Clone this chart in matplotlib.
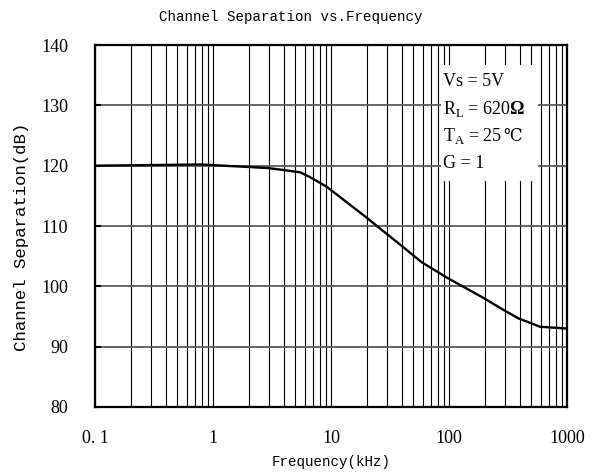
import matplotlib
matplotlib.use("Agg")
import matplotlib.pyplot as plt
from matplotlib.patches import Rectangle
from matplotlib.ticker import FixedLocator, LogLocator, NullFormatter

# Données
freq_khz = [0.1, 0.3, 0.78, 1.93, 2.94, 3.9, 5.46, 6.64, 9.2, 19.7, 29.6, 39.2, 58.6, 96.8, 195, 289, 386, 590, 1000]
sep_db = [120.0, 120.1, 120.2, 119.8, 119.6, 119.3, 118.9, 118.1, 116.5, 111.5, 108.7, 106.8, 104.0, 101.4, 98.1, 96.1, 94.7, 93.3, 93.0]

x_ticks = [0.1, 1, 10, 100, 1000]
x_labels = ["0. 1", "1", "10", "100", "1000"]
y_ticks = [80, 90, 100, 110, 120, 130, 140]
conditions = ["Vs = 5V", r"R$_\mathrm{L}$ = 620$\mathbf{\Omega}$", r"T$_\mathrm{A}$ = 25", "G = 1"]

plt.rcParams["font.family"] = ["Liberation Serif", "DejaVu Serif"]
plt.rcParams["mathtext.fontset"] = "custom"
plt.rcParams["mathtext.rm"] = "Liberation Serif"
plt.rcParams["mathtext.bf"] = "Liberation Serif:bold"

fig = plt.figure(figsize=(5.99, 4.74), dpi=100)
ax = fig.add_axes([0.1586, 0.1414, 0.788, 0.7636])

ax.set_xscale("log")
ax.set_xlim(0.1, 1000)
ax.set_ylim(80, 140)

# Grille
ax.xaxis.set_major_locator(FixedLocator(x_ticks))
ax.xaxis.set_minor_locator(LogLocator(base=10, subs=range(2, 10)))
ax.xaxis.set_minor_formatter(NullFormatter())
ax.set_xticks(x_ticks)
ax.set_xticklabels(x_labels)
ax.set_yticks(y_ticks)
ax.grid(True, which="both", axis="x", color="black", linewidth=0.8)
ax.grid(True, which="major", axis="y", color="#5a5a5a", linewidth=1.3)

ax.tick_params(axis="both", which="both", direction="in", labelsize=13)
ax.tick_params(axis="x", which="minor", length=0)
ax.tick_params(axis="x", which="major", length=0, pad=16.5)
ax.tick_params(axis="y", which="major", length=4, width=1.5, pad=19.5)

for s in ax.spines.values():
    s.set_linewidth(1.6)

ax.plot(freq_khz, sep_db, color="black", linewidth=1.7, zorder=3)

# Encadré des conditions
ax.add_patch(Rectangle((0.733, 0.625), 0.206, 0.32, transform=ax.transAxes,
                       facecolor="white", edgecolor="none", zorder=2.5))
cond_texts = []
for i, txt in enumerate(conditions):
    t = ax.text(0.737, 0.90 - i * 0.076, txt, transform=ax.transAxes,
                fontsize=13, va="center", ha="left", zorder=4)
    cond_texts.append(t)

# le symbole ℃ manque dans Liberation Serif : texte séparé juste après "25"
fig.canvas.draw()
bb = cond_texts[2].get_window_extent().transformed(ax.transAxes.inverted())
ax.text(bb.x1 + 0.002, 0.90 - 2 * 0.076, "℃", transform=ax.transAxes,
        family="DejaVu Serif", fontsize=12, va="center", ha="left", zorder=4)

fig.text(0.485, 0.965, "Channel Separation vs.Frequency", family="Liberation Mono",
         fontsize=10.2, ha="center", va="center")
ax.set_xlabel("Frequency(kHz)", family="Liberation Mono", fontsize=10.2, va="center")
ax.xaxis.set_label_coords(0.5, -0.152)
ax.set_ylabel("Channel Separation(dB)", family="Liberation Mono", fontsize=12.5, va="center")
ax.yaxis.set_label_coords(-0.155, 0.47)

fig.savefig("out.png", dpi=100)
